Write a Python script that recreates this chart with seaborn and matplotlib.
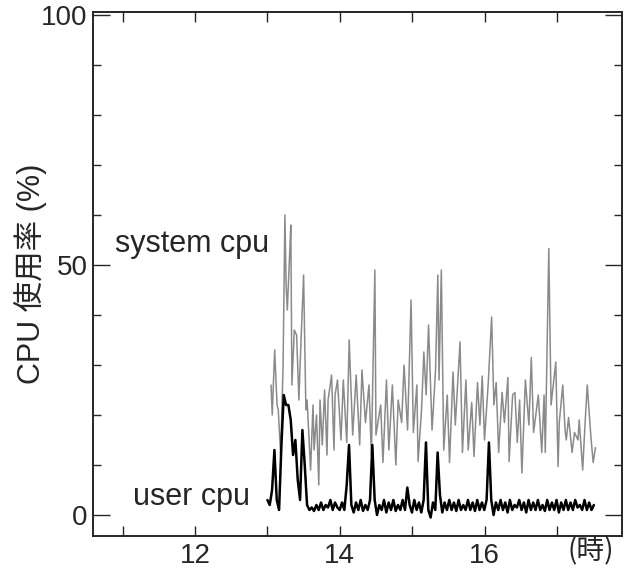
import numpy as np
import pandas as pd
import matplotlib
matplotlib.use('Agg')
import matplotlib.pyplot as plt
import seaborn as sns
from matplotlib.ticker import MultipleLocator, FixedLocator

# system cpu: minutes after 13:00, usage (%)
sys_min = [3, 4, 6, 8, 9, 11, 13, 14.5, 15.5, 16.5, 18.4, 19.4, 20.3, 22.3, 24.2,
           26.1, 27.1, 30, 31.9, 32.9, 35.8, 37.8, 38.7, 40.7, 42.6, 43.6, 45.5,
           47.4, 49.4, 50.3, 53.2, 55.2, 56.1, 58.1, 61, 62.9, 65.8, 67.8, 70.7,
           73.6, 76.5, 78.4, 81.3, 84.2, 86.2, 89.1, 90, 93.9, 95.8, 98.7, 100.7,
           103.6, 106.5, 108.4, 111.3, 113.3, 116.2, 119.1, 121, 123.9, 124.9,
           127.8, 129.7, 131.6, 133.6, 136.5, 137.5, 139.4, 141.3, 142.3, 144.2,
           146.2, 149.1, 151, 153.9, 155.8, 159.7, 161.7, 164.6, 166.5, 169.4,
           171.3, 174.2, 176.2, 178.1, 180, 183, 185.9, 187.8, 189.7, 191.7,
           194.6, 196.5, 199.4, 200.4, 203.3, 205.2, 207.2, 209.1, 211, 213.9,
           216.8, 218.8, 220.7, 224.6, 227.5, 229.4, 230.4, 233.3, 235.2, 239.1,
           241, 242, 244.9, 246.8, 247.8, 249.7, 252.6, 254.6, 257.5, 258.5,
           261.4, 263.3, 265.2, 268.1, 270.1, 272]
sys_val = [26, 20, 33, 22, 21, 12, 30, 60, 46, 41, 52, 58, 26, 37, 36,
           23, 30, 48, 21, 23, 9, 22, 13, 20, 6, 23, 14,
           25, 12, 23, 28, 13, 24, 27, 15, 27, 14.5, 35, 16,
           28, 14, 29, 18.5, 26, 12, 49, 16, 22, 10.5, 27, 13,
           26, 10, 23, 18.5, 30, 17, 43, 16.5, 26, 10.7,
           21, 32.6, 24, 38, 17, 21, 29, 48, 27, 49,
           13, 24, 10.5, 28.6, 18, 34.6, 12.5, 27, 13, 22.5,
           11.7, 26.5, 18, 27.8, 15, 26, 39.6, 22, 26.5, 12.5,
           24.5, 18.5, 27.5, 10.7, 24, 24.5, 14.5, 23, 8.4, 27,
           18, 31.5, 16.5, 24, 12.5, 24, 12.5, 53.3, 22, 30.6,
           9.7, 18.5, 26, 17, 15, 19.5, 12.5, 16.5, 15, 19,
           9, 18, 26, 16, 10.5, 13.5]

# user cpu: one sample every 116 s from 13:00
user_val = [3, 2, 5, 13, 3, 1, 14, 24, 22, 22, 19, 12, 15, 7, 3, 17, 10, 2, 1, 1.5,
            0.8, 2, 1, 2.5, 1, 2, 1.5, 3, 1, 2.5, 1.5, 1, 2.5, 1, 6, 14, 2, 0.5, 2.5, 1,
            3, 0.8, 2, 1, 3, 14, 3, 0, 2, 1, 3, 0.5, 2.5, 1, 3, 0.8, 2, 1, 3, 1,
            5.5, 2, 0.5, 3, 1, 2.5, 0.5, 3, 14.5, 1, -0.5, 2.5, 1, 12.5, 4, 0.5, 2.5, 1, 3, 1,
            2.5, 0.8, 3, 1, 2, 1, 3, 1, 2.5, 0.8, 3, 1, 2.5, 1, 3, 14.5, 3, 0, 2.5, 1,
            3, 1, 2.5, 0.5, 3, 1, 2, 1.5, 3, 1, 2.5, 0.5, 3, 1, 2.5, 1, 3, 1, 2, 0.8,
            3, 1, 2.5, 1, 3, 0.5, 2.5, 1, 3, 1, 2.5, 1, 3, 1.5, 2, 1, 3, 1, 2.5, 1, 2]

sys_df = pd.DataFrame({'hour': 13 + np.array(sys_min) / 60, 'cpu': sys_val})
user_df = pd.DataFrame({'hour': 13 + np.arange(len(user_val)) * 116 / 3600, 'cpu': user_val})

sns.set_style('ticks')
plt.rcParams['font.family'] = ['Liberation Sans', 'Noto Sans CJK JP', 'DejaVu Sans']

fig = plt.figure(figsize=(6.26, 5.73), dpi=100)
ax = fig.add_axes([0.1486, 0.0646, 0.845, 0.9144])

sns.lineplot(data=sys_df, x='hour', y='cpu', color='#8a8a8a', lw=1.1,
             sort=False, estimator=None, ax=ax)
sns.lineplot(data=user_df, x='hour', y='cpu', color='black', lw=1.8,
             sort=False, estimator=None, ax=ax)

ax.set_xlim(10.59, 17.90)
ax.set_ylim(-4.2, 100.6)

ax.set_yticks([0, 50, 100])
ax.yaxis.set_minor_locator(MultipleLocator(10))
ax.set_xticks([12, 14, 16])
ax.xaxis.set_minor_locator(FixedLocator([11, 13, 15, 17]))
ax.tick_params(axis='both', which='both', direction='in', labelsize=20, width=1.0)
ax.tick_params(axis='y', which='major', length=12, pad=4, right=True)
ax.tick_params(axis='y', which='minor', length=6, right=True)
ax.tick_params(axis='x', which='both', length=7, pad=5, top=True)
for s in ax.spines.values():
    s.set_linewidth(1.4)

ax.set_xlabel('')
ax.set_ylabel('CPU 使用率 (%)', fontsize=22)
ax.yaxis.set_label_coords(-0.087, 0.5)

ax.text(10.89, 54.3, 'system cpu', fontsize=22, va='center', ha='left')
ax.text(11.14, 3.6, 'user cpu', fontsize=22, va='center', ha='left')
ax.text(0.94, -0.03, '(時)', transform=ax.transAxes, fontsize=20,
        ha='center', va='center', family=['Noto Sans CJK JP', 'DejaVu Sans'])

plt.savefig('out.png', dpi=100)
